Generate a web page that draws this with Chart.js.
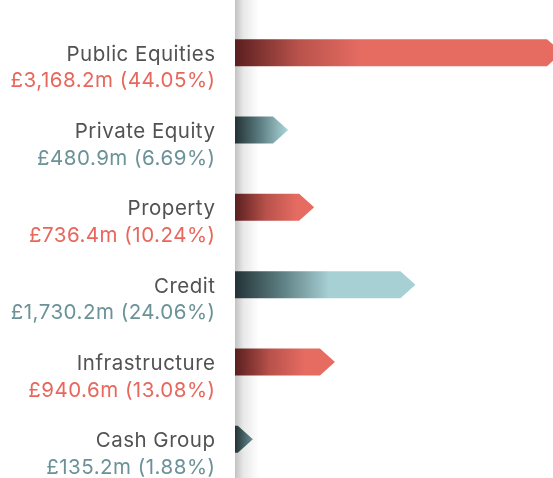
<!DOCTYPE html>
<html>
<head>
<meta charset="utf-8">
<script src="https://cdn.jsdelivr.net/npm/chart.js@4.4.1/dist/chart.umd.min.js"></script>
<style>
    html, body { margin: 0; padding: 0; background: #fff; }
    canvas { display: block; }
</style>
</head>
<body>
<canvas id="allocationChart" width="553" height="478"></canvas>
<script>
// Asset allocation (GBP millions and share of total)
const categories = ["Public Equities", "Private Equity", "Property", "Credit", "Infrastructure", "Cash Group"];
const valuesGBPm = [3168.2, 480.9, 736.4, 1730.2, 940.6, 135.2];
const sharesPct = [44.05, 6.69, 10.24, 24.06, 13.08, 1.88];
const colourGroups = ["red", "teal", "red", "teal", "red", "teal"];

const palette = {
    red:  { dark: "#5a1f1f", mid: "#b8524b", full: "#e66c62", text: "#e8675d" },
    teal: { dark: "#233336", mid: "#5d7f83", full: "#a7d0d4", text: "#6b9297" }
};
const nameColour = "#525252";

function formatValue(v, pct) {
    const money = v.toLocaleString("en-GB", { minimumFractionDigits: 1, maximumFractionDigits: 1 });
    return "£" + money + "m (" + pct.toFixed(2) + "%)";
}

// shadow cast by the label panel onto the bar area
const panelShadow = {
    id: "panelShadow",
    beforeDatasetsDraw(chart) {
        const { ctx, chartArea } = chart;
        const g = ctx.createLinearGradient(chartArea.left, 0, chartArea.left + 24, 0);
        g.addColorStop(0, "rgba(0,0,0,0.24)");
        g.addColorStop(0.35, "rgba(0,0,0,0.09)");
        g.addColorStop(1, "rgba(0,0,0,0)");
        ctx.save();
        ctx.fillStyle = g;
        ctx.fillRect(chartArea.left, 0, 24, chart.height);
        ctx.restore();
    }
};

// redraw each bar as a gradient arrow
const arrowBars = {
    id: "arrowBars",
    afterDatasetsDraw(chart) {
        const { ctx, chartArea } = chart;
        const meta = chart.getDatasetMeta(0);
        ctx.save();
        ctx.beginPath();
        ctx.rect(chartArea.left, chartArea.top - 20, chartArea.right - chartArea.left, chartArea.bottom - chartArea.top + 40);
        ctx.clip();
        meta.data.forEach((bar, i) => {
            const { x, y, height } = bar.getProps(["x", "y", "height"], true);
            const col = palette[colourGroups[i]];
            const top = y - height / 2;
            const bottom = y + height / 2;
            const left = chartArea.left - 40;
            const neck = Math.max(x - 15, left);
            const len = Math.max(x - chartArea.left, 1);

            const g = ctx.createLinearGradient(chartArea.left, 0, chartArea.left + 7 * Math.sqrt(len), 0);
            g.addColorStop(0, col.dark);
            g.addColorStop(0.5, col.mid);
            g.addColorStop(1, col.full);

            ctx.beginPath();
            ctx.moveTo(left, top);
            ctx.lineTo(neck, top);
            ctx.lineTo(x, y);
            ctx.lineTo(neck, bottom);
            ctx.lineTo(left, bottom);
            ctx.closePath();
            ctx.fillStyle = g;
            ctx.fill();
        });
        ctx.restore();
    }
};

// two-line labels: category name and value
const sideLabels = {
    id: "sideLabels",
    afterDraw(chart) {
        const { ctx, chartArea } = chart;
        const yScale = chart.scales.y;
        const xRight = chartArea.left - 20;
        ctx.save();
        ctx.textAlign = "right";
        ctx.textBaseline = "alphabetic";
        ctx.font = "20.5px Inter, 'Liberation Sans', Arial, sans-serif";
        ctx.letterSpacing = "0.5px";
        categories.forEach((name, i) => {
            const cy = yScale.getPixelForValue(i);
            ctx.fillStyle = nameColour;
            ctx.fillText(name, xRight + 0.5, cy + 8);
            ctx.fillStyle = palette[colourGroups[i]].text;
            ctx.fillText(formatValue(valuesGBPm[i], sharesPct[i]), xRight + 0.5, cy + 34.5);
        });
        ctx.restore();
    }
};

new Chart(document.getElementById("allocationChart"), {
    type: "bar",
    data: {
        labels: categories,
        datasets: [{
            data: valuesGBPm,
            backgroundColor: "rgba(0,0,0,0)",
            barThickness: 27
        }]
    },
    options: {
        indexAxis: "y",
        responsive: false,
        animation: false,
        devicePixelRatio: 1,
        layout: { padding: { top: 14, bottom: 0, left: 0, right: 0 } },
        plugins: {
            legend: { display: false },
            tooltip: { enabled: false }
        },
        scales: {
            x: {
                display: false,
                min: -40,
                max: 3080
            },
            y: {
                ticks: { display: false },
                grid: { display: false },
                border: { display: false },
                afterFit(scale) { scale.width = 235; }
            }
        }
    },
    plugins: [panelShadow, arrowBars, sideLabels]
});
</script>
</body>
</html>
